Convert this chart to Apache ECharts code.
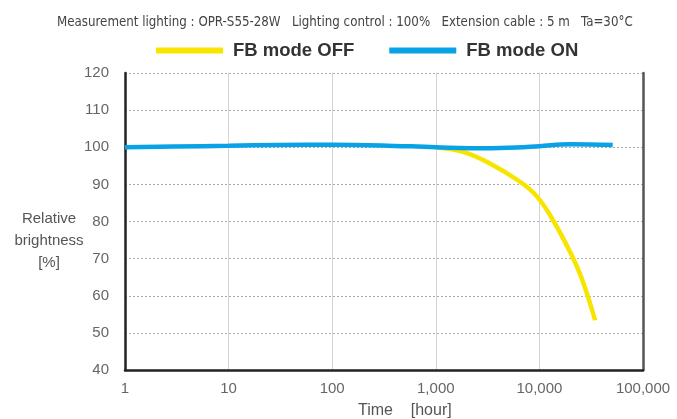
<!DOCTYPE html>
<html>
<head>
<meta charset="utf-8">
<script src="https://cdn.jsdelivr.net/npm/echarts@6/dist/echarts.min.js"></script>
<style>
  html, body { margin: 0; padding: 0; background: #fff; }
  #chart { width: 677px; height: 419px; }
</style>
</head>
<body>
<div id="chart"></div>
<script>
// time [hour] vs relative brightness [%]
const offTime = [1000, 1800, 3300, 6500, 9500, 13500, 20000, 26000, 34500];
const offValue = [99.9, 98.8, 95.7, 90.7, 86.7, 80.4, 71.5, 64.2, 53.4];
const onTime = [1, 3, 10, 30, 100, 300, 1000, 3000, 6000, 10000, 20000, 51000];
const onValue = [100, 100.2, 100.4, 100.6, 100.7, 100.5, 100, 99.7, 99.9, 100.3, 100.8, 100.6];
const seriesNames = ["FB mode OFF", "FB mode ON"];
const colors = ["#f7e500", "#0aa2e6"];

const pairs = (xs, ys) => xs.map((x, i) => [x, ys[i]]);

const chart = echarts.init(document.getElementById("chart"));
chart.setOption({
  animation: false,
  backgroundColor: "#fff",
  color: colors,
  title: {
    text: "Measurement lighting : OPR-S55-28W   Lighting control : 100%   Extension cable : 5 m   Ta=30°C",
    left: 52,
    top: 11,
    textStyle: {
      fontFamily: "'DejaVu Sans Condensed', 'Liberation Sans', sans-serif",
      fontSize: 13.2,
      fontWeight: "normal",
      color: "#444",
    },
  },
  legend: {
    left: 151,
    top: 36,
    itemWidth: 67,
    itemHeight: 6,
    itemGap: 35,
    icon: "rect",
    data: seriesNames,
    textStyle: {
      fontFamily: "Liberation Sans",
      fontSize: 18.5,
      fontWeight: "bold",
      color: "#333",
      padding: [0, 0, 0, 5],
    },
  },
  grid: { left: 125, right: 34, top: 73, bottom: 49 },
  xAxis: {
    type: "log",
    logBase: 10,
    min: 1,
    max: 100000,
    axisLine: { lineStyle: { color: "#222", width: 2.5 } },
    axisTick: { show: false },
    axisLabel: {
      color: "#666",
      fontFamily: "Liberation Sans",
      fontSize: 15,
      margin: 11,
      formatter: (v) => Number(v).toLocaleString("en-US"),
    },
    splitLine: { show: true, lineStyle: { color: "#d4d4d4", width: 1 } },
  },
  yAxis: [
    {
      type: "value",
      min: 40,
      max: 120,
      interval: 10,
      axisLine: { show: true, lineStyle: { color: "#222", width: 2.5 } },
      axisTick: { show: false },
      axisLabel: {
        color: "#666",
        fontFamily: "Liberation Sans",
        fontSize: 15,
        margin: 16,
      },
      splitLine: { lineStyle: { color: "#aaa", width: 1, type: [2, 2] } },
    },
    {
      type: "value",
      min: 40,
      max: 120,
      position: "right",
      axisLine: { show: true, lineStyle: { color: "#555", width: 2.5 } },
      axisTick: { show: false },
      axisLabel: { show: false },
      splitLine: { show: false },
    },
  ],
  graphic: [
    {
      type: "text",
      x: 49,
      y: 208,
      style: {
        text: "Relative\nbrightness\n[%]",
        align: "center",
        fontFamily: "Liberation Sans",
        fontSize: 15,
        lineHeight: 22,
        fill: "#555",
      },
    },
    {
      type: "text",
      left: 358,
      top: 403,
      style: {
        text: "Time    [hour]",
        fontFamily: "Liberation Sans",
        fontSize: 16,
        fill: "#555",
      },
    },
  ],
  series: [
    {
      name: seriesNames[0],
      type: "line",
      smooth: 0.4,
      showSymbol: false,
      lineStyle: { width: 4.5, color: colors[0] },
      data: pairs(offTime, offValue),
    },
    {
      name: seriesNames[1],
      type: "line",
      smooth: 0.4,
      showSymbol: false,
      lineStyle: { width: 4.5, color: colors[1] },
      data: pairs(onTime, onValue),
    },
  ],
});
</script>
</body>
</html>
